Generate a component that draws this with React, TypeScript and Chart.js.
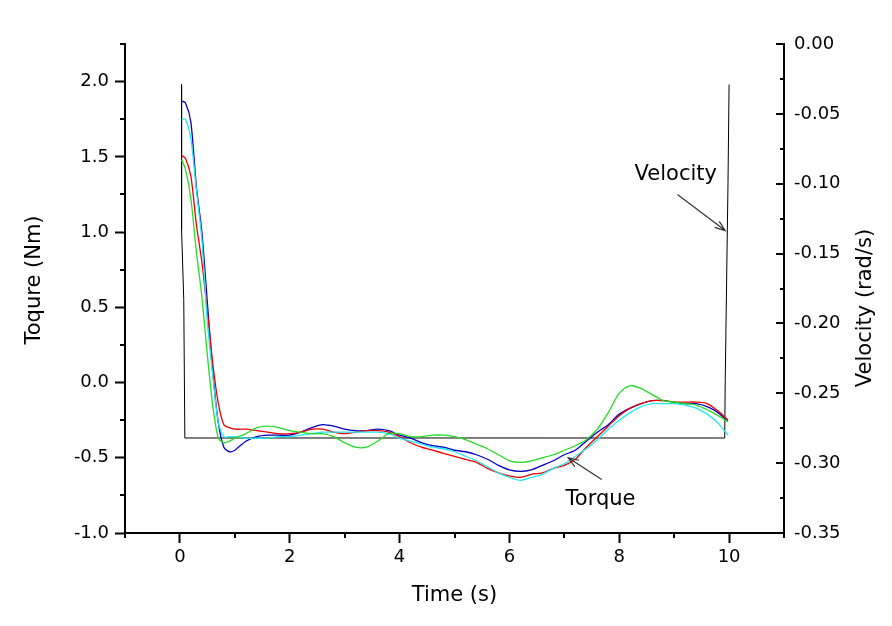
import React, { useEffect, useRef } from "react";
import { Chart, registerables } from "chart.js";

Chart.register(...registerables);

// ---- data ----
const timeS = [
  0.03, 0.1, 0.2, 0.3, 0.4, 0.5, 0.6, 0.7, 0.8, 0.9, 1.0,
  1.2, 1.4, 1.6, 1.8, 2.0, 2.2, 2.4, 2.6, 2.8, 3.0,
  3.2, 3.4, 3.6, 3.8, 4.0, 4.2, 4.4, 4.6, 4.8, 5.0,
  5.2, 5.4, 5.6, 5.8, 6.0, 6.2, 6.4, 6.6, 6.8, 7.0,
  7.2, 7.4, 7.6, 7.8, 8.0, 8.2, 8.4, 8.6, 8.8, 9.0,
  9.2, 9.4, 9.6, 9.8, 9.98,
];

const torqueRed = [
  1.51, 1.49, 1.37, 1.05, 0.8, 0.47, 0.12, -0.14, -0.28, -0.3, -0.31,
  -0.31, -0.32, -0.33, -0.34, -0.34, -0.33, -0.31, -0.31, -0.33, -0.34,
  -0.33, -0.32, -0.32, -0.33, -0.36, -0.4, -0.43, -0.45, -0.47, -0.49,
  -0.51, -0.53, -0.57, -0.6, -0.62, -0.63, -0.61, -0.6, -0.57, -0.55,
  -0.51, -0.43, -0.36, -0.29, -0.22, -0.17, -0.14, -0.12, -0.12, -0.13,
  -0.13, -0.13, -0.14, -0.19, -0.25,
];

const torqueBlue = [
  1.87, 1.86, 1.73, 1.3, 1.0, 0.53, 0.07, -0.27, -0.43, -0.46, -0.45,
  -0.39, -0.36, -0.35, -0.35, -0.35, -0.33, -0.3, -0.28, -0.29, -0.31,
  -0.32, -0.32, -0.31, -0.32, -0.35, -0.37, -0.4, -0.42, -0.43, -0.45,
  -0.46, -0.48, -0.51, -0.55, -0.58, -0.59, -0.58, -0.55, -0.52, -0.48,
  -0.45, -0.39, -0.33, -0.28, -0.21, -0.17, -0.14, -0.12, -0.12, -0.13,
  -0.14, -0.14, -0.16, -0.2, -0.26,
];

const torqueCyan = [
  1.75, 1.75, 1.62, 1.28, 0.95, 0.4, 0.04, -0.27, -0.36, -0.36, -0.36,
  -0.37, -0.37, -0.37, -0.36, -0.36, -0.35, -0.34, -0.33, -0.33, -0.33,
  -0.33, -0.33, -0.33, -0.34, -0.37, -0.39, -0.41, -0.43, -0.44, -0.46,
  -0.49, -0.52, -0.56, -0.6, -0.63, -0.65, -0.63, -0.61, -0.57, -0.54,
  -0.49, -0.44, -0.38, -0.31, -0.25, -0.2, -0.16, -0.14, -0.14, -0.14,
  -0.15, -0.17, -0.21, -0.27, -0.35,
];

const torqueGreen = [
  1.48, 1.42, 1.22, 0.87, 0.57, 0.18, -0.16, -0.37, -0.4, -0.39, -0.37,
  -0.34, -0.3, -0.29, -0.3, -0.32, -0.33, -0.34, -0.34, -0.36, -0.4,
  -0.43, -0.43, -0.39, -0.34, -0.34, -0.36, -0.36, -0.35, -0.35, -0.36,
  -0.38, -0.41, -0.44, -0.48, -0.52, -0.53, -0.52, -0.5, -0.48, -0.45,
  -0.42, -0.38, -0.31, -0.2, -0.07, -0.02, -0.04, -0.08, -0.12, -0.13,
  -0.14, -0.15, -0.18, -0.22, -0.26,
];

const velocityTime = [0.03, 0.03, 0.07, 0.09, 9.92, 9.93, 9.98, 10.0];
const velocityValues = [-0.029, -0.133, -0.183, -0.282, -0.282, -0.24, -0.1, -0.029];

const xLabels = [0, 2, 4, 6, 8, 10];
const xTitle = "Time (s)";
const yTitle = "Toqure (Nm)";
const y2Title = "Velocity (rad/s)";

// annotations in data units (time, torque)
const noteTexts = ["Velocity", "Torque"];
const noteTextPos = [
  [9.03, 1.38],
  [7.66, -0.78],
];
const noteArrowFrom = [
  [9.06, 1.25],
  [7.68, -0.645],
];
const noteArrowTo = [
  [9.93, 1.01],
  [7.07, -0.5],
];

const FONT = '"DejaVu Sans", "Liberation Sans", sans-serif';

const near = (v: number, step: number) =>
  Math.abs(Math.round(v / step) * step - v) < 1e-6;

const toXY = (xs: number[], ys: number[]) =>
  xs.map((x, i) => ({ x, y: ys[i] }));

function drawArrow(
  ctx: CanvasRenderingContext2D,
  x1: number,
  y1: number,
  x2: number,
  y2: number
) {
  const ang = Math.atan2(y2 - y1, x2 - x1);
  const hl = 11;
  const ha = 0.35;
  ctx.beginPath();
  ctx.moveTo(x1, y1);
  ctx.lineTo(x2, y2);
  ctx.moveTo(x2 - hl * Math.cos(ang - ha), y2 - hl * Math.sin(ang - ha));
  ctx.lineTo(x2, y2);
  ctx.lineTo(x2 - hl * Math.cos(ang + ha), y2 - hl * Math.sin(ang + ha));
  ctx.stroke();
}

const decorPlugin = {
  id: "decor",
  afterDraw(chart: any) {
    const { ctx, chartArea, scales } = chart;
    const sx = scales.x;
    const sy = scales.y;
    const sy2 = scales.y2;
    ctx.save();
    ctx.strokeStyle = "#000";
    ctx.lineWidth = 2;
    ctx.beginPath();
    // minor ticks left (outward)
    sy.ticks.forEach((t: any) => {
      if (!near(t.value, 0.5)) {
        const p = Math.round(sy.getPixelForValue(t.value));
        ctx.moveTo(chartArea.left - 5, p);
        ctx.lineTo(chartArea.left, p);
      }
    });
    // minor ticks bottom (outward)
    sx.ticks.forEach((t: any) => {
      if (!near(t.value, 2)) {
        const p = Math.round(sx.getPixelForValue(t.value));
        ctx.moveTo(p, chartArea.bottom);
        ctx.lineTo(p, chartArea.bottom + 5);
      }
    });
    // right ticks (inward)
    sy2.ticks.forEach((t: any) => {
      const p = Math.round(sy2.getPixelForValue(t.value));
      const len = near(t.value, 0.05) ? 8 : 4;
      ctx.moveTo(chartArea.right - len, p);
      ctx.lineTo(chartArea.right, p);
    });
    ctx.stroke();

    // axis titles
    ctx.fillStyle = "#000";
    ctx.font = `21px ${FONT}`;
    ctx.textAlign = "center";
    ctx.textBaseline = "middle";
    ctx.fillText(xTitle, (chartArea.left + chartArea.right) / 2, 596);
    ctx.save();
    ctx.translate(35, 280);
    ctx.rotate(-Math.PI / 2);
    ctx.fillText(yTitle, 0, 0);
    ctx.restore();
    ctx.save();
    ctx.translate(866, 308);
    ctx.rotate(-Math.PI / 2);
    ctx.fillText(y2Title, 0, 0);
    ctx.restore();

    // annotations
    ctx.font = `21px ${FONT}`;
    noteTexts.forEach((txt, i) => {
      ctx.fillStyle = "#000";
      ctx.fillText(
        txt,
        sx.getPixelForValue(noteTextPos[i][0]),
        sy.getPixelForValue(noteTextPos[i][1])
      );
      ctx.strokeStyle = "#333";
      ctx.lineWidth = 1.2;
      drawArrow(
        ctx,
        sx.getPixelForValue(noteArrowFrom[i][0]),
        sy.getPixelForValue(noteArrowFrom[i][1]),
        sx.getPixelForValue(noteArrowTo[i][0]),
        sy.getPixelForValue(noteArrowTo[i][1])
      );
    });
    ctx.restore();
  },
};

export default function App() {
  const canvasRef = useRef<HTMLCanvasElement | null>(null);

  useEffect(() => {
    document.body.style.margin = "0";
    if (!canvasRef.current) return;
    Chart.defaults.font.family = FONT;
    const torqueLine = (label: string, data: number[], color: string) => ({
      label,
      data: toXY(timeS, data),
      borderColor: color,
      borderWidth: 1.3,
      pointRadius: 0,
      fill: false,
      tension: 0.25,
      yAxisID: "y",
    });
    const chart = new Chart(canvasRef.current, {
      type: "line",
      data: {
        datasets: [
          torqueLine("Torque 4", torqueGreen, "#22dd22"),
          torqueLine("Torque 3", torqueCyan, "#22e8ee"),
          torqueLine("Torque 1", torqueRed, "#ee0000"),
          torqueLine("Torque 2", torqueBlue, "#0000c8"),
          {
            label: "Velocity",
            data: toXY(velocityTime, velocityValues),
            borderColor: "#000",
            borderWidth: 1,
            pointRadius: 0,
            fill: false,
            tension: 0,
            yAxisID: "y2",
          },
        ],
      },
      options: {
        animation: false,
        responsive: true,
        maintainAspectRatio: false,
        layout: { padding: { top: 44, left: 0, right: 0, bottom: 0 } },
        plugins: {
          legend: { display: false },
          tooltip: { enabled: false },
        },
        scales: {
          x: {
            type: "linear",
            position: "bottom",
            min: -1,
            max: 11,
            afterFit: (s: any) => {
              s.height = 93;
            },
            ticks: {
              stepSize: 1,
              color: "#000",
              font: { size: 18, family: FONT },
              padding: 4,
              maxRotation: 0,
              autoSkip: false,
              callback: (v: any) =>
                xLabels.includes(Number(v)) ? String(v) : "",
            },
            grid: {
              drawOnChartArea: false,
              drawTicks: true,
              tickLength: 10,
              tickWidth: 2,
              tickColor: (c: any) =>
                c.tick && xLabels.includes(c.tick.value)
                  ? "#000"
                  : "rgba(0,0,0,0)",
            },
            border: { display: true, color: "#000", width: 2 },
          },
          y: {
            type: "linear",
            position: "left",
            min: -1,
            max: 2.25,
            afterFit: (s: any) => {
              s.width = 125;
            },
            ticks: {
              stepSize: 0.25,
              color: "#000",
              font: { size: 18, family: FONT },
              padding: 6,
              autoSkip: false,
              callback: (v: any) =>
                near(Number(v), 0.5) ? Number(v).toFixed(1) : "",
            },
            grid: {
              drawOnChartArea: false,
              drawTicks: true,
              tickLength: 10,
              tickWidth: 2,
              tickColor: (c: any) =>
                c.tick && near(c.tick.value, 0.5) ? "#000" : "rgba(0,0,0,0)",
            },
            border: { display: true, color: "#000", width: 2 },
          },
          y2: {
            type: "linear",
            position: "right",
            min: -0.35,
            max: 0,
            afterFit: (s: any) => {
              s.width = 108;
            },
            ticks: {
              stepSize: 0.025,
              color: "#000",
              font: { size: 18, family: FONT },
              padding: 2,
              autoSkip: false,
              callback: (v: any) =>
                near(Number(v), 0.05) ? Number(v).toFixed(2) : "",
            },
            grid: {
              drawOnChartArea: false,
              drawTicks: true,
              tickLength: 8,
              tickColor: "rgba(0,0,0,0)",
            },
            border: { display: true, color: "#000", width: 2 },
          },
        },
      },
      plugins: [decorPlugin],
    } as any);
    return () => chart.destroy();
  }, []);

  return (
    <div style={{ position: "relative", width: 892, height: 626 }}>
      <canvas ref={canvasRef} />
    </div>
  );
}
